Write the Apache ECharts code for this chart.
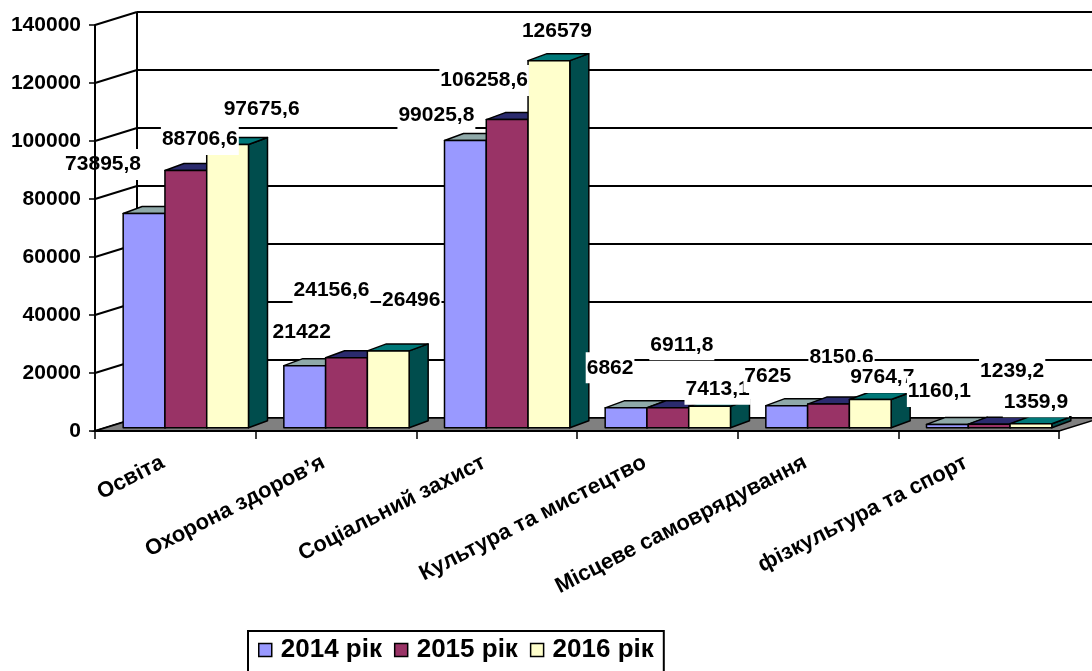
<!DOCTYPE html>
<html><head><meta charset="utf-8">
<script src="https://cdn.jsdelivr.net/npm/echarts@6/dist/echarts.min.js"></script>
<style>html,body{margin:0;padding:0;background:#fff}#c{width:1092px;height:671px}</style>
</head><body><div id="c"></div>
<script>
// ---- data ----
const categories = ['Освіта', 'Охорона здоров’я', 'Соціальний захист', 'Культура та мистецтво', 'Місцеве самоврядування', 'фізкультура та спорт'];
const years = ['2014 рік', '2015 рік', '2016 рік'];
const values2014 = [73895.8, 21422, 99025.8, 6862, 7625, 1160.1];
const values2015 = [88706.6, 24156.6, 106258.6, 6911.8, 8150.6, 1239.2];
const values2016 = [97675.6, 26496, 126579, 7413.1, 9764.7, 1359.9];
const yTicks = [0, 20000, 40000, 60000, 80000, 100000, 120000, 140000];

// ---- layout / style ----
const FONT = '"Liberation Sans", Arial, sans-serif';
const DEPTH = [42, -13];      // floor / wall depth
const BAR_DEPTH = [19, -7];   // bar box depth
const BAR_SHIFT = 0.25;       // bars sit a quarter way into the floor
const BAR_FRAC = 0.26;        // bar width as fraction of category band
const faces = [
  {front: '#9999FF', top: '#8FA9A9', side: '#5C5C99'},
  {front: '#993366', top: '#2B2B6E', side: '#5C1F3D'},
  {front: '#FFFFCC', top: '#007878', side: '#004D4D'}
];
// label nudges (px) relative to the top-centre of each bar's front face
const labelNudge = [
  [[-41, -49], [14, -31], [34, -35]],
  [[-3, -33], [-15, -67], [23, -51]],
  [[-29, -25], [-23, -39], [8, -29]],
  [[-16, -40], [14, -63], [8, -17]],
  [[-19, -29], [13, -47], [12, -22]],
  [[-8, -33], [23, -53], [5, -22]]
];
const seriesValues = [values2014, values2015, values2016];

function barGeom(api, i, v, s) {
  const bw = api.size([1, 0])[0];
  const w = bw * BAR_FRAC;
  const base = api.coord([i, 0]);
  const top = api.coord([i, v]);
  const sx = DEPTH[0] * BAR_SHIFT, sy = DEPTH[1] * BAR_SHIFT;
  const x0 = base[0] - 1.5 * w + s * w + sx;
  return {x0: x0, x1: x0 + w, yb: base[1] + sy, yt: top[1] + sy, w: w};
}

function barRender(s) {
  return function (params, api) {
    const i = api.value(0), v = api.value(1);
    const g = barGeom(api, i, v, s);
    const [bx, by] = BAR_DEPTH;
    const st = {stroke: '#000', lineWidth: 1.5, lineJoin: 'round'};
    return {
      type: 'group',
      children: [
        {type: 'polygon', z2: 1, shape: {points: [[g.x1, g.yt], [g.x1 + bx, g.yt + by], [g.x1 + bx, g.yb + by], [g.x1, g.yb]]},
          style: Object.assign({fill: faces[s].side}, st)},
        {type: 'polygon', z2: 2, shape: {points: [[g.x0, g.yt], [g.x1, g.yt], [g.x1 + bx, g.yt + by], [g.x0 + bx, g.yt + by]]},
          style: Object.assign({fill: faces[s].top}, st)},
        {type: 'rect', z2: 3, shape: {x: g.x0, y: g.yt, width: g.w, height: g.yb - g.yt},
          style: Object.assign({fill: faces[s].front}, st)}
      ]
    };
  };
}

function wallRender(params, api) {
  const v = api.value(1);
  const cs = params.coordSys;
  const x0 = cs.x, x1 = cs.x + cs.width;
  const y = api.coord([0, v])[1];
  const [dx, dy] = DEPTH;
  const ln = {stroke: '#000', lineWidth: 2};
  const children = [
    {type: 'line', shape: {x1: x0 + dx, y1: y + dy, x2: x1 + dx, y2: y + dy}, style: ln},
    {type: 'line', shape: {x1: x0, y1: y, x2: x0 + dx, y2: y + dy}, style: ln}
  ];
  if (v === yTicks[0]) {
    const yTop = api.coord([0, yTicks[yTicks.length - 1]])[1];
    children.push({type: 'line', shape: {x1: x0 + dx, y1: yTop + dy, x2: x0 + dx, y2: y + dy}, style: ln});
    children.push({type: 'polygon', z2: 5, shape: {points: [[x0, y], [x1, y], [x1 + dx, y + dy], [x0 + dx, y + dy]]},
      style: {fill: '#808080', stroke: '#000', lineWidth: 1.5}});
  }
  return {type: 'group', children: children};
}

const labelData = [];
categories.forEach((c, i) => seriesValues.forEach((arr, s) => labelData.push([i, arr[i], s])));

function labelRender(params, api) {
  const i = api.value(0), v = api.value(1), s = api.value(2);
  const g = barGeom(api, i, v, s);
  const n = labelNudge[i][s];
  return {
    type: 'text',
    x: (g.x0 + g.x1) / 2 + n[0],
    y: g.yt + n[1],
    style: {
      text: String(v).replace('.', ','),
      font: 'bold 21px ' + FONT,
      fill: '#000',
      align: 'center',
      verticalAlign: 'middle',
      backgroundColor: '#fff',
      padding: [6, 1, 4, 1]
    }
  };
}

const chart = echarts.init(document.getElementById('c'), null, {renderer: 'canvas'});
const series = [
  {type: 'custom', name: 'walls', z: 1, silent: true, renderItem: wallRender,
    data: yTicks.map(v => [0, v]), encode: {x: 0, y: 1}}
];
years.forEach((name, s) => {
  series.push({
    type: 'custom', name: name, z: 3, renderItem: barRender(s),
    itemStyle: {color: faces[s].front},
    data: seriesValues[s].map((v, i) => [i, v]), encode: {x: 0, y: 1}
  });
});
series.push({type: 'custom', name: 'labels', z: 6, silent: true, renderItem: labelRender,
  data: labelData, encode: {x: 0, y: 1}});

chart.setOption({
  animation: false,
  backgroundColor: '#fff',
  grid: {left: 95, right: 33, top: 25, bottom: 240, containLabel: false},
  xAxis: {
    type: 'category', data: categories, z: 10,
    axisLine: {lineStyle: {color: '#000', width: 2}},
    axisTick: {show: true, length: 8, lineStyle: {color: '#000', width: 1.5}},
    axisLabel: {interval: 0, rotate: 27, margin: 24, padding: [0, 14, 0, 0],
      fontSize: 22, fontWeight: 'bold', fontFamily: FONT, color: '#000'},
    splitLine: {show: false}
  },
  yAxis: {
    type: 'value', min: 0, max: 140000, interval: 20000, z: 10,
    axisLine: {show: true, lineStyle: {color: '#000', width: 2}},
    axisTick: {show: true, length: 6, lineStyle: {color: '#000', width: 1.5}},
    axisLabel: {margin: 14, fontSize: 21, fontWeight: 'bold', fontFamily: FONT, color: '#000',
      formatter: v => String(v)},
    splitLine: {show: false}
  },
  legend: {
    data: years, left: 248, top: 631, orient: 'horizontal',
    icon: 'rect', itemWidth: 13, itemHeight: 13, itemGap: 12,
    borderColor: '#000', borderWidth: 2, padding: [6, 10, 20, 10],
    itemStyle: {borderColor: '#000', borderWidth: 1.5},
    textStyle: {fontSize: 26, fontWeight: 'bold', fontFamily: FONT, color: '#000', padding: [0, 0, 0, 4]}
  },
  series: series
});
</script>
</body></html>
